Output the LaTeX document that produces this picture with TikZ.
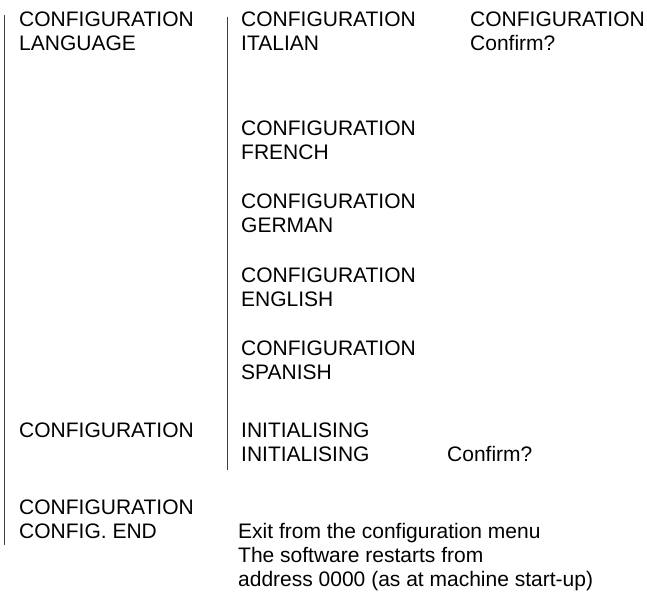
\documentclass[tikz,border=0pt]{standalone}
\usepackage{fontspec}
\setmainfont{Liberation Sans}
\begin{document}
\begin{tikzpicture}[x=1pt,y=-1pt,
  % multi-line texts: the base anchor sits on the last line's baseline
  txt/.style={anchor=base west,inner sep=0pt,align=left,
    font=\fontsize{21}{24}\selectfont},
  bar/.style={line width=0.9pt,draw=black!75}]
\useasboundingbox (0,0) rectangle (647,593);

% first column
\node[txt] (lang)  at (19,51)  {CONFIGURATION\\LANGUAGE};
\node[txt] (init)  at (19,437) {CONFIGURATION};
\node[txt] (cend)  at (19,538) {CONFIGURATION\\CONFIG. END};

% second column: language choices
\node[txt] (ita)   at (241,51)  {CONFIGURATION\\ITALIAN};
\node[txt] (fre)   at (241,160) {CONFIGURATION\\FRENCH};
\node[txt] (ger)   at (241,233) {CONFIGURATION\\GERMAN};
\node[txt] (eng)   at (241,306) {CONFIGURATION\\ENGLISH};
\node[txt] (spa)   at (241,379) {CONFIGURATION\\SPANISH};
\node[txt] (ini2)  at (241,461) {INITIALISING\\INITIALISING};
\node[txt] (exit)  at (238,586) {Exit from the configuration menu\\The software restarts from\\address 0000 (as at machine start-up)};

% third column: confirmation prompts
\node[txt] (conf1) at (470,51)  {CONFIGURATION\\Confirm?};
\node[txt] (conf2) at (447,461) {Confirm?};

% vertical bars grouping the menu levels
\coordinate (l1top) at (4,15);
\coordinate (l1bot) at (4,545);
\coordinate (l2top) at (227,17);
\coordinate (l2bot) at (227,470);
\draw[bar] (l1top) -- (l1bot);
\draw[bar] (l2top) -- (l2bot);
\end{tikzpicture}
\end{document}
